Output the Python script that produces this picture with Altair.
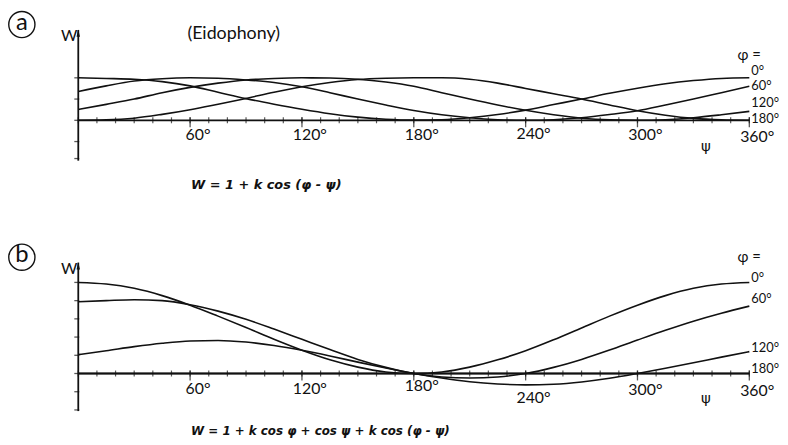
import altair as alt
import pandas as pd

# ---------------- data ----------------
psi = list(range(0, 361, 15))
phi_values = [0, 60, 120, 180]
curve_labels = ["0°", "60°", "120°", "180°"]

# panel (a)  W = 1 + k cos(phi - psi)
a_phi0 = [2.0, 1.97, 1.93, 1.82, 1.62, 1.32, 1.02, 0.76, 0.52, 0.31, 0.15, 0.05, 0.01,
          0.03, 0.12, 0.27, 0.48, 0.74, 1.0, 1.27, 1.51, 1.72, 1.87, 1.97, 2.0]
a_phi60 = [1.35, 1.62, 1.85, 1.96, 2.0, 1.98, 1.9, 1.78, 1.58, 1.3, 1.0, 0.72, 0.46,
           0.26, 0.12, 0.03, 0.0, 0.03, 0.12, 0.27, 0.45, 0.72, 1.0, 1.3, 1.6]
a_phi120 = [0.51, 0.75, 1.0, 1.3, 1.55, 1.75, 1.9, 1.97, 2.0, 1.99, 1.93, 1.8, 1.6,
            1.3, 1.0, 0.72, 0.47, 0.26, 0.1, 0.02, 0.0, 0.03, 0.12, 0.26, 0.42]
a_phi180 = [0.0, 0.02, 0.1, 0.28, 0.5, 0.76, 1.03, 1.32, 1.58, 1.78, 1.92, 1.98, 2.0,
            2.0, 1.93, 1.75, 1.5, 1.25, 1.0, 0.72, 0.45, 0.24, 0.09, 0.02, 0.0]

# panel (b)  W = 1 + k cos phi + cos psi + k cos(phi - psi)
b_phi0 = [4.0, 3.93, 3.74, 3.42, 3.0, 2.52, 2.02, 1.5, 1.02, 0.6, 0.28, 0.07, 0.0,
          0.07, 0.28, 0.6, 1.0, 1.48, 2.0, 2.52, 3.0, 3.42, 3.74, 3.93, 4.0]
b_phi60 = [3.15, 3.2, 3.24, 3.2, 3.02, 2.74, 2.38, 1.95, 1.5, 1.05, 0.62, 0.27, 0.0,
           -0.15, -0.2, -0.15, 0.0, 0.27, 0.62, 1.03, 1.47, 1.9, 2.3, 2.65, 2.96]
b_phi120 = [0.83, 1.0, 1.18, 1.33, 1.43, 1.45, 1.38, 1.23, 1.02, 0.77, 0.5, 0.24, 0.0,
            -0.2, -0.36, -0.46, -0.5, -0.47, -0.37, -0.21, 0.0, 0.23, 0.47, 0.72, 0.96]
b_phi180 = [0.0] * len(psi)

minor_ticks = list(range(0, 361, 10))
major_ticks = [60, 120, 180, 240, 300, 360]
major_labels = ["60°", "120°", "180°", "240°", "300°", "360°"]

a_yticks = [-1.8, -1.0, 0.0, 1.0, 2.0]
a_ydomain = [-1.9, 4.25]
b_yticks = [-1.6, -0.8, 0.0, 0.8, 1.6, 2.4, 3.2, 4.0]
b_ydomain = [-1.65, 4.87]

formula_a = "W = 1 + k cos (φ - ψ)"
formula_b = "W = 1 + k cos φ + cos ψ + k cos (φ - ψ)"

FONT = "Lato"
INK = "#111111"
PW = 678          # plot width
PH = 385          # both panels stacked
A_RANGE = [132, 0]
B_RANGE = [385, 235]


def per_item_text(df, xf, yf, tf, dys, X, Y, **kw):
    out = []
    for lab, dy in zip(df[tf], dys):
        out.append(alt.Chart(df).transform_filter(alt.datum[tf] == lab).mark_text(
            font=FONT, color=INK, dy=dy, **kw).encode(x=X(xf), y=Y(yf), text=f"{tf}:N"))
    return out


def panel(series, ydom, yrange, yticks, letter, formula, fsize, label_dys, tick_dys, title=None):
    top = yrange[1]
    bottom = yrange[0]
    rows = []
    for ph, vals in zip(phi_values, series):
        for p, v in zip(psi, vals):
            rows.append({"psi": p, "W": v, "phi": ph})
    df = pd.DataFrame(rows)
    xs = alt.Scale(domain=[psi[0], psi[-1]], nice=False, zero=False)
    ys = alt.Scale(domain=ydom, range=yrange, nice=False, zero=False)

    def X(f):
        return alt.X(f, scale=xs, axis=None)

    def Y(f):
        return alt.Y(f, scale=ys, axis=None)

    lines = alt.Chart(df).mark_line(color=INK, strokeWidth=1.6, interpolate="monotone").encode(
        x=X("psi:Q"), y=Y("W:Q"), detail="phi:N")

    xa = pd.DataFrame({"x0": [psi[0]], "x1": [psi[-1]], "y": [0.0]})
    xaxis = alt.Chart(xa).mark_rule(color=INK, strokeWidth=1.8).encode(
        x=X("x0:Q"), x2="x1:Q", y=Y("y:Q"))
    ya = pd.DataFrame({"x": [psi[0]], "y0": [ydom[0]], "y1": [ydom[1]]})
    yaxis = alt.Chart(ya).mark_rule(color=INK, strokeWidth=1.8).encode(
        x=X("x:Q"), y=Y("y0:Q"), y2="y1:Q")
    arrow = alt.Chart(ya).mark_point(shape="M0,-1.4L0.55,0.9L-0.55,0.9Z", filled=True,
                                     color=INK, size=40, opacity=1, yOffset=4).encode(
        x=X("x:Q"), y=Y("y1:Q"))
    yt = pd.DataFrame({"x": [psi[0]] * len(yticks), "y": yticks})
    yticks_m = alt.Chart(yt).mark_tick(orient="horizontal", size=5, thickness=1.3,
                                       color=INK, xOffset=-1.5).encode(x=X("x:Q"), y=Y("y:Q"))

    mt = pd.DataFrame({"t": minor_ticks, "y": [0.0] * len(minor_ticks)})
    minor = alt.Chart(mt).mark_tick(orient="vertical", size=6, thickness=1.2, color=INK).encode(
        x=X("t:Q"), y=Y("y:Q"))
    jt = pd.DataFrame({"t": major_ticks, "y": [0.0] * len(major_ticks), "lab": major_labels})
    major = alt.Chart(jt).mark_tick(orient="vertical", size=10, thickness=1.3, color=INK,
                                    yOffset=2).encode(x=X("t:Q"), y=Y("y:Q"))
    major_txt = per_item_text(jt, "t:Q", "y:Q", "lab", tick_dys, X, Y, fontSize=16,
                              dx=8, baseline="middle", align="center")

    ends = pd.DataFrame({"psi": [psi[-1]] * 4, "W": [s[-1] for s in series], "lab": curve_labels})
    end_txt = per_item_text(ends, "psi:Q", "W:Q", "lab", label_dys, X, Y, fontSize=13,
                            dx=2, baseline="middle", align="left")

    one = pd.DataFrame({"t": [letter]})
    circ = alt.Chart(one).mark_point(shape="circle", size=700, filled=False, color=INK,
                                     strokeWidth=1.4, opacity=1).encode(
        x=alt.value(-57), y=alt.value(top - 5.5))
    circ_t = alt.Chart(one).mark_text(font=FONT, fontSize=24, color=INK, baseline="middle",
                                      dy=-2).encode(x=alt.value(-57), y=alt.value(top - 5.5),
                                                    text="t:N")
    wlab = alt.Chart(pd.DataFrame({"t": ["W"]})).mark_text(
        font=FONT, fontSize=16, color=INK, align="right", baseline="middle").encode(
        x=alt.value(-1), y=alt.value(top + 6), text="t:N")
    phil = alt.Chart(pd.DataFrame({"t": ["φ ="]})).mark_text(
        font=FONT, fontSize=15, color=INK, align="left", baseline="middle").encode(
        x=alt.value(666), y=alt.value(top + (25 if letter == "a" else -6)), text="t:N")
    psil = alt.Chart(pd.DataFrame({"t": ["ψ"]})).mark_text(
        font="DejaVu Sans", fontSize=15, color=INK, align="center", baseline="middle").encode(
        x=alt.value(634), y=alt.value(top + (117 if letter == "a" else 137)), text="t:N")
    form = alt.Chart(pd.DataFrame({"t": [formula]})).mark_text(
        font="DejaVu Sans", fontSize=fsize, fontWeight="bold", fontStyle="italic", color=INK,
        align="left", baseline="middle").encode(
        x=alt.value(114), y=alt.value(bottom + (25 if letter == "a" else 20)), text="t:N")

    layers = [lines, xaxis, yaxis, arrow, yticks_m, minor, major] + major_txt + end_txt + \
             [circ, circ_t, wlab, phil, psil, form]
    if title:
        tl = alt.Chart(pd.DataFrame({"t": [title]})).mark_text(
            font=FONT, fontSize=18, color=INK, align="center", baseline="middle").encode(
            x=alt.value(157), y=alt.value(top + 4), text="t:N")
        layers.append(tl)
    return alt.layer(*layers)


pa = panel([a_phi0, a_phi60, a_phi120, a_phi180], a_ydomain, A_RANGE, a_yticks, "a",
           formula_a, 13, [-7, 0, -8, -1], [15, 15, 15, 14, 15, 17], title="(Eidophony)")
pb = panel([b_phi0, b_phi60, b_phi120, b_phi180], b_ydomain, B_RANGE, b_yticks, "b",
           formula_b, 12, [-4, -7, -4, -5], [16, 16, 13, 25, 17, 18])

chart = alt.layer(pa, pb).resolve_scale(y="independent").properties(
    width=PW, height=PH,
    autosize=alt.AutoSizeParams(type="none"),
    padding={"left": 71, "top": 20, "right": 31, "bottom": 30},
    background="white").configure_view(stroke=None)

chart.save("out.html", embed_options={"renderer": "svg", "actions": False})
